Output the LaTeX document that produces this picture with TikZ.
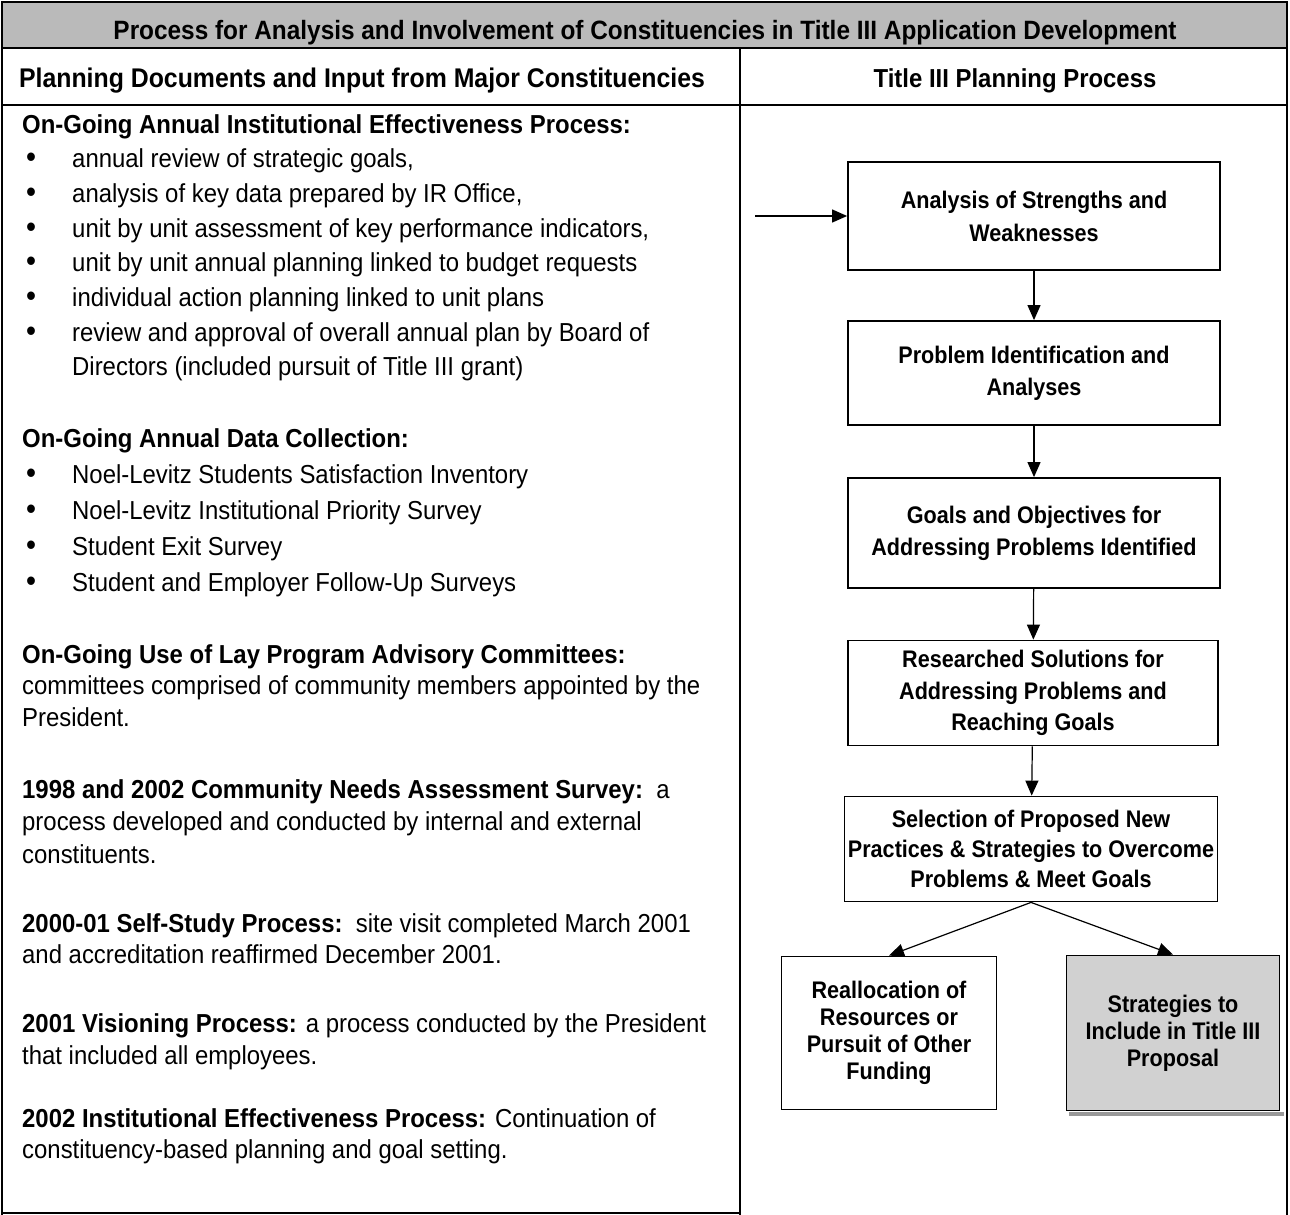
\documentclass[tikz,border=0pt]{standalone}
\usepackage{fontspec}
\setmainfont{Liberation Sans}
\newfontfamily\narrowfont{Liberation Sans}[FakeStretch=0.92]
\newfontfamily\boxfont{Liberation Sans}[FakeStretch=0.9]
\usetikzlibrary{arrows.meta}

\tikzset{
  cell/.style={line width=1.3pt},
  stepbox/.style={draw, line width=1.8pt, align=center, inner sep=2pt,
    font=\boxfont\bfseries\fontsize{24}{32}\selectfont},
  flow/.style={line width=1.2pt, -{Triangle[length=15pt,width=13pt]}},
  body/.style={anchor=base west, inner sep=0pt, align=left,
    font=\narrowfont\fontsize{26}{32}\selectfont},
  head/.style={inner sep=0pt, font=\narrowfont\bfseries\fontsize{26}{30}\selectfont},
  dot/.style={anchor=base, inner sep=0pt, font=\narrowfont\fontsize{31}{32}\selectfont},
}

\begin{document}
\begin{tikzpicture}[x=1pt,y=-1pt]
  \useasboundingbox (0,0) rectangle (1290,1215);
  \fill[black!27] (2,2) rectangle (1287,48);
  \draw[cell] (2,1215) -- (2,2) -- (1287,2) -- (1287,1215);
  \draw[cell] (2,48) -- (1287,48);
  \draw[cell] (2,105) -- (1287,105);
  \draw[cell] (740,48) -- (740,1215);
  \draw[cell] (2,1213) -- (740,1213);

  \node[head, font=\narrowfont\bfseries\fontsize{26.5}{30}\selectfont] (title) at (645,33) {Process for Analysis and Involvement of Constituencies in Title III Application Development};
  \node[head, font=\narrowfont\bfseries\fontsize{27}{30}\selectfont] (lefthead) at (362,81) {Planning Documents and Input from Major Constituencies};
  \node[head] (righthead) at (1015,81) {Title III Planning Process};

  \node[body] (iep) at (22,133) {\textbf{On-Going Annual Institutional Effectiveness Process:}};
  \foreach \t [count=\n, evaluate=\n as \y using 133+34.7*\n] in
    {{annual review of strategic goals,},
     {analysis of key data prepared by IR Office,},
     {unit by unit assessment of key performance indicators,},
     {unit by unit annual planning linked to budget requests},
     {individual action planning linked to unit plans}}{
    \node[dot] (iep-b\n) at (31,\y) {\textbullet};
    \node[body] (iep-\n) at (72,\y) {\t};
  }
  \node[dot] (iep-b6) at (31,341.2) {\textbullet};
  \node[body, font=\narrowfont\fontsize{26}{34.7}\selectfont] (iep-6) at (72,375.9)
    {review and approval of overall annual plan by Board of\\Directors (included pursuit of Title III grant)};

  \node[body] (data) at (22,447) {\textbf{On-Going Annual Data Collection:}};
  \foreach \t [count=\n, evaluate=\n as \y using 447+36*\n] in
    {Noel-Levitz Students Satisfaction Inventory,
     Noel-Levitz Institutional Priority Survey,
     Student Exit Survey,
     Student and Employer Follow-Up Surveys}{
    \node[dot] (data-b\n) at (31,\y) {\textbullet};
    \node[body] (data-\n) at (72,\y) {\t};
  }

  \node[body, font=\narrowfont\fontsize{26}{31.5}\selectfont] (lay) at (22,726)
    {\textbf{On-Going Use of Lay Program Advisory Committees:}\\
    committees comprised of community members appointed by the\\President.};
  \node[body, font=\narrowfont\fontsize{26}{32.5}\selectfont] (needs) at (22,863)
    {\textbf{1998 and 2002 Community Needs Assessment Survey:}\ \ a\\
    process developed and conducted by internal and external\\constituents.};
  \node[body, font=\narrowfont\fontsize{26}{31}\selectfont] (self) at (22,963)
    {\textbf{2000-01 Self-Study Process:}\ \ site visit completed March 2001\\
    and accreditation reaffirmed December 2001.};
  \node[body] (vision) at (22,1064)
    {\textbf{2001 Visioning Process:} a process conducted by the President\\
    that included all employees.};
  \node[body, font=\narrowfont\fontsize{26}{31}\selectfont] (ie) at (22,1158)
    {\textbf{2002 Institutional Effectiveness Process:} Continuation of\\
    constituency-based planning and goal setting.};

  \node[stepbox, minimum width=372, minimum height=108, font=\boxfont\bfseries\fontsize{24}{33}\selectfont] (s1) at (1034,216) {Analysis of Strengths and\\Weaknesses};
  \node[stepbox, minimum width=372, minimum height=104] (s2) at (1034,373) {Problem Identification and\\Analyses};
  \node[stepbox, minimum width=372, minimum height=110] (s3) at (1034,533) {Goals and Objectives for\\Addressing Problems Identified};
  \node[stepbox, minimum width=370, minimum height=105, font=\boxfont\bfseries\fontsize{24}{31.5}\selectfont] (s4) at (1033,693) {Researched Solutions for\\Addressing Problems and\\Reaching Goals};
  \node[stepbox, minimum width=373, minimum height=105, inner sep=1pt, font=\boxfont\bfseries\fontsize{24}{30}\selectfont] (s5) at (1031,849) {Selection of Proposed New\\Practices \& Strategies to Overcome\\Problems \& Meet Goals};
  \node[stepbox, minimum width=215, minimum height=153, font=\boxfont\bfseries\fontsize{24}{27}\selectfont] (s6) at (889,1033) {Reallocation of\\Resources or\\Pursuit of Other\\Funding};
  \node[stepbox, fill=black!18, minimum width=213, minimum height=155, font=\boxfont\bfseries\fontsize{24}{27}\selectfont] (s7) at (1173,1033) {Strategies to\\Include in Title III\\Proposal};
  \fill[black!40] ([xshift=3pt,yshift=-1pt]s7.south west) rectangle ([xshift=4pt,yshift=-5pt]s7.south east);

  \coordinate (in) at (755,216);
  \draw[flow] (in) -- (s1);
  \draw[flow] (s1) -- (s2);
  \draw[flow] (s2) -- (s3);
  \draw[flow] (s3) -- (s4);
  \draw[flow] (s4) -- (s5);
  \draw[flow] (s5.south) -- (s6.north);
  \draw[flow] (s5.south) -- (s7.north);
\end{tikzpicture}
\end{document}
